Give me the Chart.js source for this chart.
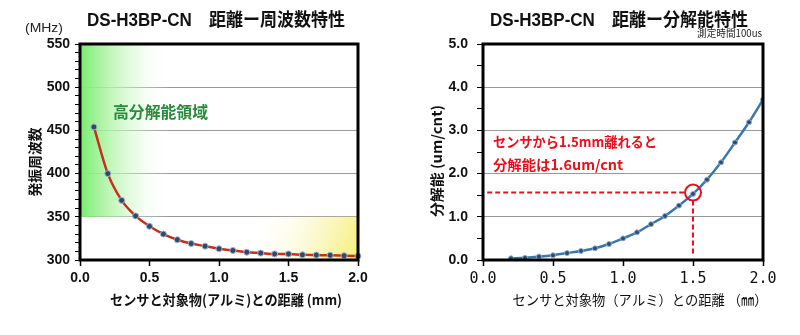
<!DOCTYPE html>
<html>
<head>
<meta charset="utf-8">
<script src="https://cdn.jsdelivr.net/npm/chart.js@4.4.1/dist/chart.umd.min.js"></script>
<style>
    body { margin: 0; background: #fff; }
    #wrap { position: relative; width: 800px; height: 335px; overflow: hidden; }
    canvas { position: absolute; top: 0; }
    #freqChart { left: 0; }
    #resChart { left: 400px; }
</style>
</head>
<body>
<div id="wrap">
    <canvas id="freqChart" width="400" height="335"></canvas>
    <canvas id="resChart" width="400" height="335"></canvas>
</div>
<script>
// 距離-周波数特性
const freqDistance = [0.1, 0.2, 0.3, 0.4, 0.5, 0.6, 0.7, 0.8, 0.9, 1.0, 1.1, 1.2, 1.3, 1.4, 1.5, 1.6, 1.7, 1.8, 1.9, 2.0];
const freqValues = [454, 400, 369, 351, 339, 330, 323.5, 319, 316, 313, 311, 309, 308, 307, 307, 306, 305.7, 305.5, 305, 304.5];

// 距離-分解能特性
const resDistance = [0.2, 0.3, 0.4, 0.5, 0.6, 0.7, 0.8, 0.9, 1.0, 1.1, 1.2, 1.3, 1.4, 1.5, 1.6, 1.7, 1.8, 1.9, 2.0];
const resValues = [0.04, 0.05, 0.08, 0.11, 0.16, 0.21, 0.27, 0.37, 0.5, 0.64, 0.83, 1.02, 1.26, 1.53, 1.86, 2.26, 2.72, 3.19, 3.71];

// 注目点 (1.5mm)
const markPoint = { x: 1.5, y: 1.56 };

const JP = '"Noto Sans CJK JP"';
const TICK_FONT = { family: '"Liberation Sans", Arial, sans-serif', size: 14, weight: 'bold' };

function drawText(ctx, text, x, y, font, color, width, rotate) {
    ctx.save();
    ctx.translate(x, y);
    if (rotate) ctx.rotate(-Math.PI / 2);
    ctx.font = font;
    const w = ctx.measureText(text).width;
    if (width) ctx.scale(width / w, 1);
    ctx.fillStyle = color;
    ctx.textAlign = 'center';
    ctx.textBaseline = 'middle';
    ctx.fillText(text, 0, 0);
    ctx.restore();
}

// 枠線 (太い黒)
const framePlugin = {
    id: 'frame',
    afterDraw(chart) {
        const { ctx, chartArea: a } = chart;
        ctx.save();
        ctx.strokeStyle = '#000';
        ctx.lineWidth = 3;
        ctx.strokeRect(a.left, a.top, a.right - a.left, a.bottom - a.top);
        ctx.restore();
    }
};

// 左グラフの背景グラデーション
const zonePlugin = {
    id: 'zones',
    beforeDatasetsDraw(chart) {
        const { ctx, chartArea: a, scales: { x, y } } = chart;
        ctx.save();
        const g = ctx.createLinearGradient(a.left, 0, x.getPixelForValue(0.65), 0);
        g.addColorStop(0, 'rgba(120,236,110,1)');
        g.addColorStop(0.35, 'rgba(180,245,170,0.8)');
        g.addColorStop(1, 'rgba(255,255,255,0)');
        ctx.fillStyle = g;
        ctx.fillRect(a.left, y.getPixelForValue(550), x.getPixelForValue(0.65) - a.left, y.getPixelForValue(350) - y.getPixelForValue(550));

        const x0 = x.getPixelForValue(1.25);
        const yg = ctx.createLinearGradient(x0, y.getPixelForValue(350), a.right, y.getPixelForValue(305));
        yg.addColorStop(0, 'rgba(255,255,255,0)');
        yg.addColorStop(0.6, 'rgba(250,246,190,0.8)');
        yg.addColorStop(1, 'rgba(245,240,120,1)');
        ctx.fillStyle = yg;
        ctx.fillRect(x0, y.getPixelForValue(350), a.right - x0, y.getPixelForValue(300) - y.getPixelForValue(350));
        ctx.restore();
    },
    afterDraw(chart) {
        const ctx = chart.ctx;
        drawText(ctx, 'DS-H3BP-CN\u3000距離ー周波数特性', 216, 21.5, `bold 18px "Liberation Sans", ${JP}`, '#111', 258);
        drawText(ctx, '(MHz)', 44, 28.5, '13px "Liberation Sans"', '#222', 38);
        drawText(ctx, '発振周波数', 35, 162, `bold 14px ${JP}`, '#111', 69, true);
        drawText(ctx, 'センサと対象物(アルミ)との距離 (mm)', 226, 300, `bold 14px ${JP}`, '#111', 232);
        drawText(ctx, '高分解能領域', 160.5, 112, `bold 16px ${JP}`, '#2b8a3c', 95);
    }
};

// 右グラフの注釈
const notePlugin = {
    id: 'note',
    afterDatasetsDraw(chart) {
        const { ctx, scales: { x, y } } = chart;
        const cx = x.getPixelForValue(markPoint.x);
        const cy = y.getPixelForValue(markPoint.y);
        const r = 8;
        ctx.save();
        ctx.strokeStyle = '#e8101c';
        ctx.lineWidth = 2;
        ctx.setLineDash([5, 3]);
        ctx.beginPath();
        ctx.moveTo(x.getPixelForValue(0.03), cy);
        ctx.lineTo(cx - r, cy);
        ctx.moveTo(cx, cy + r);
        ctx.lineTo(cx, y.getPixelForValue(0.1));
        ctx.stroke();
        ctx.setLineDash([]);
        ctx.beginPath();
        ctx.arc(cx, cy, r, 0, Math.PI * 2);
        ctx.stroke();
        ctx.restore();
    },
    afterDraw(chart) {
        const ctx = chart.ctx;
        drawText(ctx, 'DS-H3BP-CN\u3000距離ー分解能特性', 219, 21, `bold 18px "Liberation Sans", ${JP}`, '#111', 258);
        drawText(ctx, '測定時間100us', 329.5, 33, `10px ${JP}`, '#222', 65);
        drawText(ctx, '分解能 (um/cnt)', 36.5, 161, `bold 14px ${JP}`, '#111', 112, true);
        drawText(ctx, 'センサと対象物（アルミ）との距離 （㎜）', 240, 300, `14px ${JP}`, '#111', 255);
        drawText(ctx, 'センサから1.5mm離れると', 175, 142, `bold 14px ${JP}`, '#e8101c', 164);
        drawText(ctx, '分解能は1.6um/cnt', 158, 165, `bold 14px ${JP}`, '#e8101c', 130);
    }
};

function xAxis(font) {
    return {
        type: 'linear',
        min: 0,
        max: 2,
        ticks: {
            stepSize: 0.5,
            font: font,
            color: '#111',
            padding: 4,
            maxRotation: 0,
            callback: v => v.toFixed(1)
        },
        grid: { drawOnChartArea: false, tickLength: 6, tickColor: '#000', tickWidth: 1.5 },
        border: { display: false },
        afterFit: s => { s.height = 75; }
    };
}

new Chart(document.getElementById('freqChart'), {
    type: 'line',
    data: {
        datasets: [{
            data: freqDistance.map((d, i) => ({ x: d, y: freqValues[i] })),
            borderColor: '#c3311d',
            borderWidth: 2.5,
            cubicInterpolationMode: 'monotone',
            pointRadius: 3,
            pointBackgroundColor: '#33476a',
            pointBorderColor: '#9db4cc',
            pointBorderWidth: 1,
            clip: false
        }]
    },
    options: {
        responsive: false,
        animation: false,
        devicePixelRatio: 1,
        layout: { padding: { top: 44, right: 42, left: 0, bottom: 0 } },
        plugins: { legend: { display: false }, tooltip: { enabled: false } },
        scales: {
            x: xAxis(TICK_FONT),
            y: {
                min: 300,
                max: 550,
                ticks: {
                    stepSize: 10,
                    autoSkip: false,
                    font: TICK_FONT,
                    color: '#111',
                    padding: 5,
                    callback: v => (v % 50 === 0 ? v : '')
                },
                grid: {
                    color: c => (c.tick && c.tick.value % 50 === 0 && c.tick.value > 300 && c.tick.value < 550 ? '#999' : 'rgba(0,0,0,0)'),
                    tickColor: '#000',
                    tickLength: 5,
                    tickWidth: 1
                },
                border: { display: false },
                afterFit: s => { s.width = 80; }
            }
        }
    },
    plugins: [zonePlugin, framePlugin]
});

new Chart(document.getElementById('resChart'), {
    type: 'line',
    data: {
        datasets: [{
            data: resDistance.map((d, i) => ({ x: d, y: resValues[i] })),
            borderColor: '#3a78aa',
            borderWidth: 2.5,
            cubicInterpolationMode: 'monotone',
            pointRadius: 2.5,
            pointBackgroundColor: '#2d4c74',
            pointBorderColor: '#8fb0d0',
            pointBorderWidth: 1
        }]
    },
    options: {
        responsive: false,
        animation: false,
        devicePixelRatio: 1,
        layout: { padding: { top: 44, right: 37, left: 0, bottom: 0 } },
        plugins: { legend: { display: false }, tooltip: { enabled: false } },
        scales: {
            x: xAxis({ family: '"DejaVu Sans Mono", monospace', size: 15 }),
            y: {
                min: 0,
                max: 5,
                ticks: {
                    stepSize: 0.5,
                    autoSkip: false,
                    font: TICK_FONT,
                    color: '#111',
                    padding: 9,
                    callback: v => (Number.isInteger(v) ? v.toFixed(1) : '')
                },
                grid: {
                    color: c => (c.tick && Number.isInteger(c.tick.value) && c.tick.value > 0 && c.tick.value < 5 ? '#999' : 'rgba(0,0,0,0)'),
                    tickColor: '#000',
                    tickLength: 6,
                    tickWidth: 1
                },
                border: { display: false },
                afterFit: s => { s.width = 83; }
            }
        }
    },
    plugins: [notePlugin, framePlugin]
});
</script>
</body>
</html>
